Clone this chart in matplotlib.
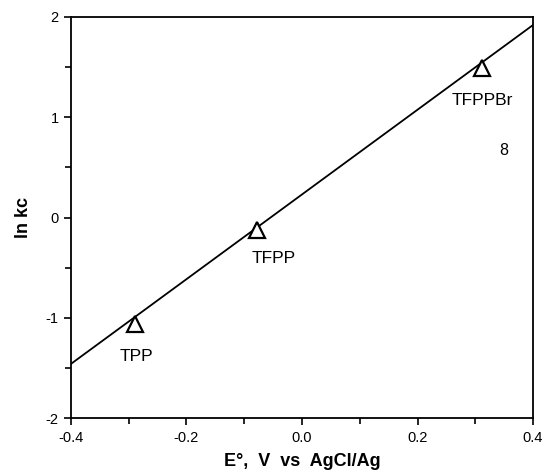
import matplotlib
matplotlib.use("Agg")
import matplotlib.pyplot as plt
from matplotlib.ticker import MultipleLocator, FormatStrFormatter

plt.rcParams['font.family'] = ['Liberation Sans', 'DejaVu Sans']

# porphyrin data
names = ["TPP", "TFPP", "TFPPBr"]
e0 = [-0.29, -0.078, 0.312]
lnkc = [-1.06, -0.125, 1.49]

# fitted line end points
fit_x = [-0.4, 0.4]
fit_y = [-1.46, 1.92]

# label offsets (data units)
lab_dx = [0.003, 0.029, 0.0]
lab_dy = [-0.33, -0.28, -0.32]

fig = plt.figure(figsize=(5.48, 4.74), dpi=100)
ax = fig.add_axes([71/548, 1 - 418/474, 462/548, 401/474])

ax.plot(fit_x, fit_y, color='black', lw=1.3)
ax.plot(e0, lnkc, linestyle='none', marker='^', markersize=11,
        markerfacecolor='white', markeredgecolor='black', markeredgewidth=1.6)

for n, x, y, dx, dy in zip(names, e0, lnkc, lab_dx, lab_dy):
    ax.text(x + dx, y + dy, n, ha='center', va='center', fontsize=12.5)

ax.text(0.35, 0.67, "8", ha='center', va='center', fontsize=11.5)

ax.set_xlim(-0.4, 0.4)
ax.set_ylim(-2, 2)
ax.xaxis.set_major_locator(MultipleLocator(0.2))
ax.xaxis.set_minor_locator(MultipleLocator(0.1))
ax.yaxis.set_major_locator(MultipleLocator(1))
ax.yaxis.set_minor_locator(MultipleLocator(0.5))
ax.xaxis.set_major_formatter(FormatStrFormatter('%.1f'))
ax.yaxis.set_major_formatter(FormatStrFormatter('%d'))
ax.tick_params(which='both', direction='out', top=False, right=False,
               width=1.2, labelsize=10.5)
ax.tick_params(which='major', length=5, pad=4)
ax.tick_params(which='minor', length=4)
for s in ax.spines.values():
    s.set_linewidth(1.3)

ax.set_xlabel("E°,  V  vs  AgCl/Ag", fontsize=13, fontweight='bold', labelpad=6)
ax.set_ylabel("ln kc", fontsize=13, fontweight='bold', labelpad=10)

fig.savefig("out.png", dpi=100)
